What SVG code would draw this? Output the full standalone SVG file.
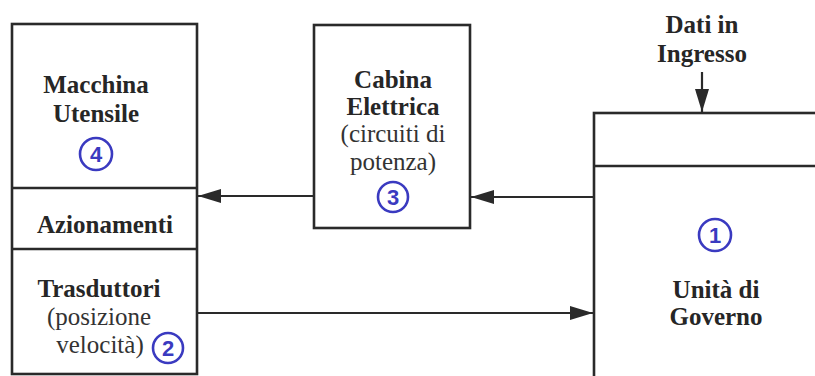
<svg xmlns="http://www.w3.org/2000/svg" width="815" height="376" viewBox="0 0 815 376">
<defs>
<style>
.box{fill:none;stroke:#2a2a2a;stroke-width:2.6}
.div{stroke:#2a2a2a;stroke-width:2.4}
.con{stroke:#2a2a2a;stroke-width:2.2;fill:none}
.b{font-family:'Liberation Serif','Times New Roman','DejaVu Serif',serif;font-weight:bold;font-size:25px;fill:#262626;text-anchor:middle}
.r{font-family:'Liberation Serif','Times New Roman','DejaVu Serif',serif;font-size:25px;fill:#333;text-anchor:middle}
.cc{fill:none;stroke:#3a3ac0;stroke-width:2.6}
.cn{font-family:'Liberation Sans',Arial,sans-serif;font-weight:bold;font-size:22px;fill:#3a3ac0;text-anchor:middle}
</style>
<marker id="ah" markerUnits="userSpaceOnUse" markerWidth="24" markerHeight="14" refX="23" refY="7" orient="auto">
<path d="M0,0 L23,7 L0,14 Z" fill="#2a2a2a"/>
</marker>
</defs>
<rect width="815" height="376" fill="#fff"/>
<g id="macchina">
<rect class="box" x="12" y="24" width="185" height="350"/>
<line class="div" x1="12" y1="188" x2="197" y2="188"/>
<line class="div" x1="12" y1="249" x2="197" y2="249"/>
<text class="b" x="96" y="93">Macchina</text>
<text class="b" x="96" y="122">Utensile</text>
<circle class="cc" cx="96" cy="154" r="16"/>
<text class="cn" x="96" y="162">4</text>
<text class="b" x="105" y="233">Azionamenti</text>
<text class="b" x="99" y="297">Trasduttori</text>
<text class="r" x="99" y="325">(posizione</text>
<text class="r" x="100" y="353">velocità)</text>
<circle class="cc" cx="168" cy="348" r="15"/>
<text class="cn" x="168" y="356">2</text>
</g>
<g id="cabina">
<rect class="box" x="314" y="25" width="156" height="203"/>
<text class="b" x="393" y="88">Cabina</text>
<text class="b" x="393" y="115">Elettrica</text>
<text class="r" x="393" y="142">(circuiti di</text>
<text class="r" x="393" y="170">potenza)</text>
<circle class="cc" cx="393" cy="197" r="15"/>
<text class="cn" x="393" y="205">3</text>
</g>
<g id="unita">
<rect class="box" x="594" y="113" width="240" height="300"/>
<line class="div" x1="594" y1="166" x2="815" y2="166"/>
<circle class="cc" cx="715" cy="235" r="16"/>
<text class="cn" x="715" y="243">1</text>
<text class="b" x="716" y="298">Unità di</text>
<text class="b" x="716" y="325">Governo</text>
</g>
<g id="dati">
<text class="b" x="702" y="33">Dati in</text>
<text class="b" x="702" y="62">Ingresso</text>
</g>
<g id="connectors">
<line class="con" x1="702" y1="72" x2="702" y2="112" marker-end="url(#ah)"/>
<line class="con" x1="594" y1="197" x2="471" y2="197" marker-end="url(#ah)"/>
<line class="con" x1="314" y1="196" x2="198" y2="196" marker-end="url(#ah)"/>
<line class="con" x1="197" y1="313" x2="593" y2="313" marker-end="url(#ah)"/>
</g>
</svg>
